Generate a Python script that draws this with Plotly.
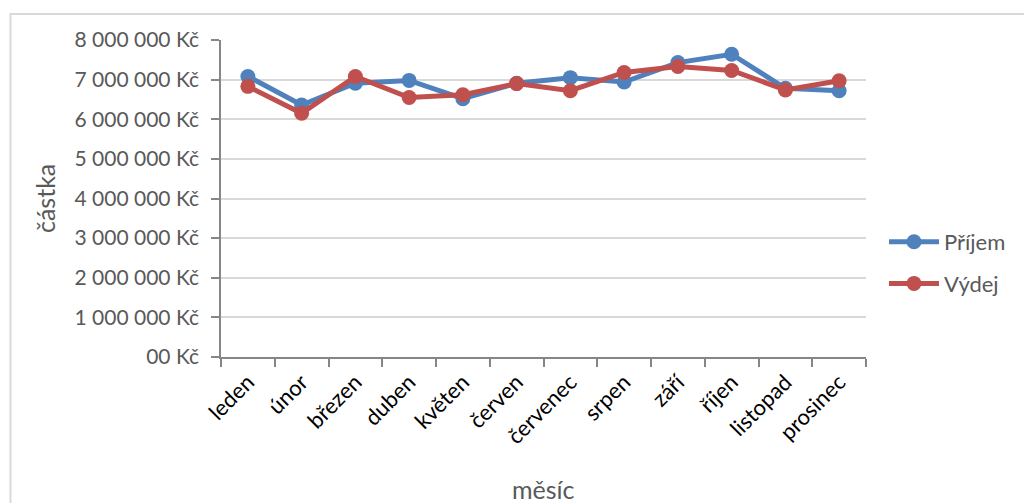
import plotly.graph_objects as go

months = ["leden", "únor", "březen", "duben", "květen", "červen", "červenec",
          "srpen", "září", "říjen", "listopad", "prosinec"]
prijem = [7080000, 6360000, 6910000, 6980000, 6520000, 6910000, 7050000,
          6940000, 7430000, 7640000, 6780000, 6720000]
vydej = [6830000, 6150000, 7080000, 6550000, 6620000, 6900000, 6720000,
         7180000, 7330000, 7230000, 6740000, 6970000]
y_tickvals = [0, 1000000, 2000000, 3000000, 4000000, 5000000, 6000000, 7000000, 8000000]
y_ticktext = ["00 Kč", "1 000 000 Kč", "2 000 000 Kč", "3 000 000 Kč", "4 000 000 Kč",
              "5 000 000 Kč", "6 000 000 Kč", "7 000 000 Kč", "8 000 000 Kč"]

FONT = "Lato"
GRAY = "#595959"

fig = go.Figure()
fig.add_trace(go.Scatter(x=months, y=prijem, name="Příjem", mode="lines+markers",
                         legendgroup="a",
                         line=dict(color="#4F81BD", width=5),
                         marker=dict(color="#4F81BD", size=15)))
fig.add_trace(go.Scatter(x=months, y=vydej, name="Výdej", mode="lines+markers",
                         legendgroup="b",
                         line=dict(color="#C0504D", width=5),
                         marker=dict(color="#C0504D", size=15)))

L, R, T, B = 221, 866, 40, 357
W, H = R - L, B - T

def px(x):
    return (x - L) / W

def py(y):
    return (B - y) / H

fig.update_layout(
    width=1024, height=503,
    margin=dict(l=L, r=1024 - R, t=T, b=503 - B),
    paper_bgcolor="white", plot_bgcolor="white",
    font=dict(family=FONT, color=GRAY, size=18),
    xaxis=dict(type="category", showgrid=False, showline=True, linecolor="#868686",
               linewidth=1.5, ticks="outside", tickson="boundaries", ticklen=8,
               tickcolor="#868686", tickwidth=1.5, tickangle=-45,
               tickfont=dict(family=FONT, size=22, color="black"),
               ticklabelstandoff=2,
               range=[-0.5, 11.5]),
    yaxis=dict(range=[0, 8000000], tickvals=y_tickvals, ticktext=y_ticktext,
               showgrid=True, gridcolor="#d9d9d9", gridwidth=1.5, showline=True,
               linecolor="#868686", linewidth=1.5, ticks="outside", ticklen=8,
               tickcolor="#868686", tickwidth=1.5, zeroline=False,
               ticklabelstandoff=8,
               tickfont=dict(family=FONT, size=21, color=GRAY)),
    legend=dict(x=px(884), y=py(221), xanchor="left", yanchor="top",
                font=dict(family=FONT, size=22, color=GRAY), tracegroupgap=10,
                bgcolor="rgba(0,0,0,0)", itemwidth=50),
    showlegend=True,
    shapes=[dict(type="rect", xref="paper", yref="paper",
                 x0=px(10.5), x1=px(1040), y0=py(14), y1=py(520),
                 line=dict(color="#d9d9d9", width=2), fillcolor="rgba(0,0,0,0)",
                 layer="below")],
    annotations=[
        dict(text="částka", xref="paper", yref="paper", x=px(45), y=py(199),
             showarrow=False, textangle=-90, font=dict(family=FONT, size=25, color=GRAY),
             xanchor="center", yanchor="middle"),
        dict(text="měsíc", xref="paper", yref="paper", x=px(543), y=py(489),
             showarrow=False, font=dict(family=FONT, size=25, color=GRAY),
             xanchor="center", yanchor="middle"),
    ],
)

fig.write_html("out.html")
